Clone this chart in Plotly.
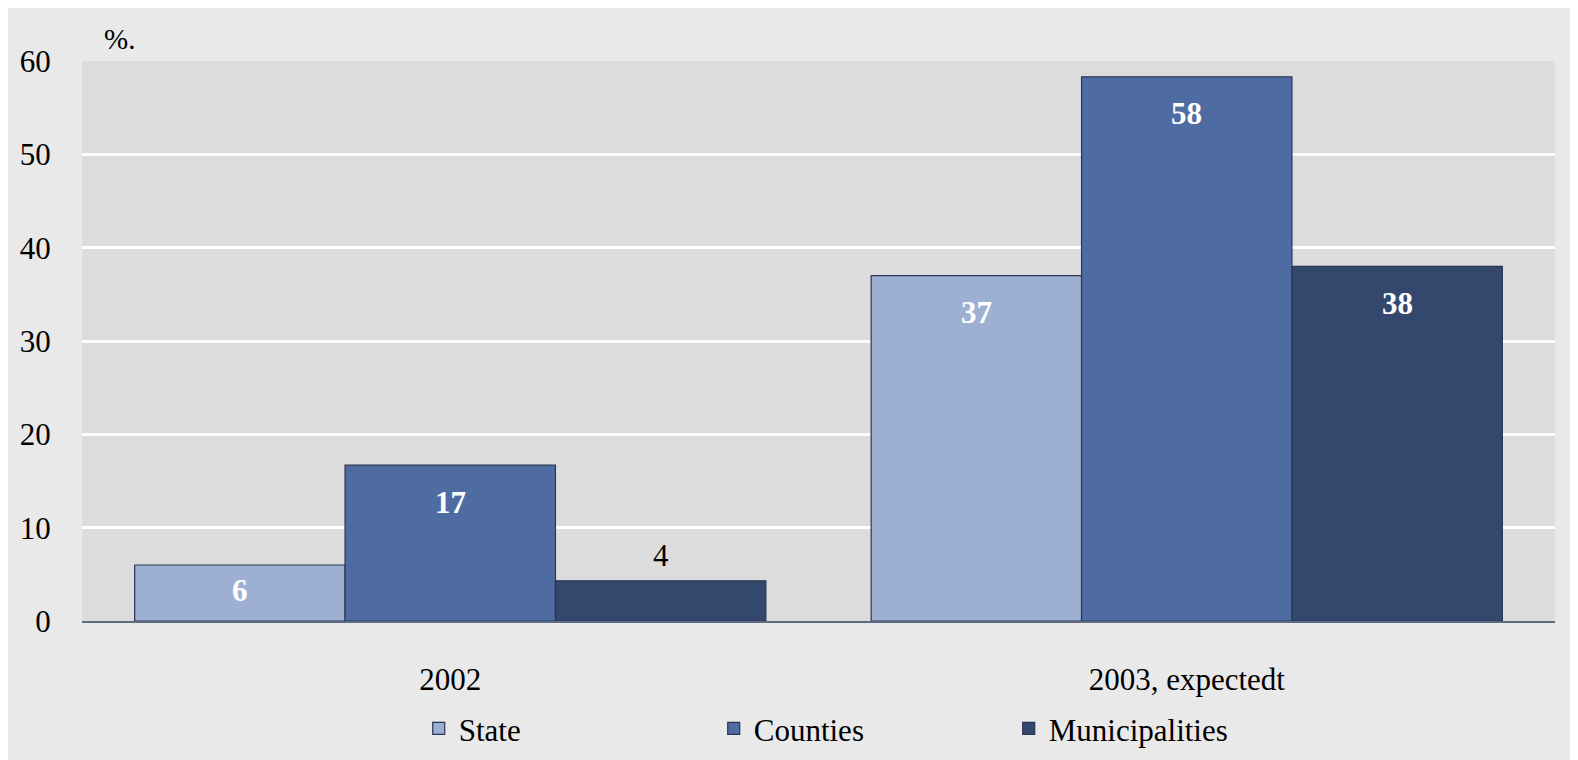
import plotly.graph_objects as go

categories = ["2002", "2003, expectedt"]
series_names = ["State", "Counties", "Municipalities"]
state = [6.0, 37.0]
counties = [16.7, 58.3]
municipalities = [4.3, 38.0]
y_ticks = [0, 10, 20, 30, 40, 50, 60]

colors = ["#9dafd3", "#4e6ca2", "#34476c"]
all_series = [state, counties, municipalities]

W, H = 1578, 760
ml, mr, mt, mb = 64, 31, 53, 146
pw, ph = W - ml - mr, H - mt - mb
bargap = 0.143

fig = go.Figure()
for name, vals, col in zip(series_names, all_series, colors):
    fig.add_trace(go.Bar(
        x=categories, y=vals, name=name,
        marker=dict(color=col, line=dict(color="#2a3654", width=1.2)),
        textposition="none",
    ))

serif = "Liberation Serif"
px_per_unit = ph / 60.0
annotations = []
n = len(all_series)
w = (1 - bargap) / n
for i, vals in enumerate(all_series):
    for j, v in enumerate(vals):
        xpos = j + (i - (n - 1) / 2) * w
        hpx = v * px_per_unit
        if hpx > 100:
            shift, color, bold = -37, "white", True
        elif hpx > 45:
            shift, color, bold = -hpx / 2 + 3, "white", True
        else:
            shift, color, bold = 25, "black", False
        txt = f"{v:.0f}"
        if bold:
            txt = f"<b>{txt}</b>"
        annotations.append(dict(
            x=xpos, y=v, xref="x", yref="y", text=txt, showarrow=False,
            yanchor="middle", xanchor="center", yshift=shift,
            font=dict(family=serif, size=31, color=color),
        ))

annotations.append(dict(
    x=(84 - ml) / pw, y=(614 - 31) / ph, xref="paper", yref="paper",
    text="%.", showarrow=False, xanchor="left", yanchor="middle",
    font=dict(family=serif, size=29, color="black"),
))

fig.update_layout(
    width=W, height=H,
    margin=dict(l=ml, r=mr, t=mt, b=mb, pad=0),
    paper_bgcolor="#e9e9e9",
    plot_bgcolor="#dcdcdc",
    barmode="group", bargap=bargap, bargroupgap=0,
    font=dict(family=serif, size=31, color="black"),
    showlegend=True,
    legend=dict(
        orientation="h", x=(403 - ml) / pw, xanchor="left",
        y=(614 - 722) / ph, yanchor="middle",
        font=dict(family=serif, size=31, color="black"),
        entrywidth=250, entrywidthmode="pixels",
        bgcolor="rgba(0,0,0,0)",
    ),
    annotations=annotations,
)
fig.update_xaxes(
    showgrid=False, showline=True, linecolor="#5f6b85", linewidth=2,
    ticks="outside", ticklen=30, tickcolor="rgba(0,0,0,0)",
    tickfont=dict(family=serif, size=31, color="black"),
)
fig.update_yaxes(
    range=[0, 60], tickvals=y_ticks, showgrid=True, gridcolor="white",
    gridwidth=3, zeroline=False, showline=False,
    ticks="outside", ticklen=24, tickcolor="rgba(0,0,0,0)",
    tickfont=dict(family=serif, size=31, color="black"),
)

fig.write_html("out.html")
